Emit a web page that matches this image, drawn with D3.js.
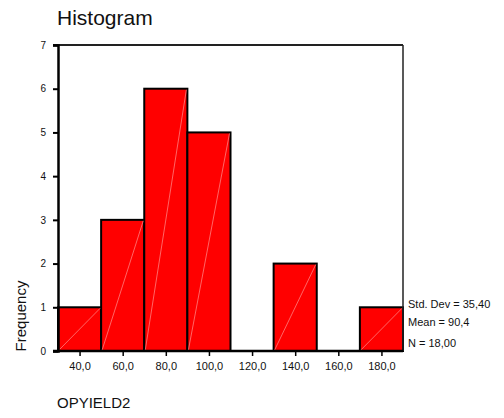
<!DOCTYPE html>
<html>
<head>
<meta charset="utf-8">
<script src="https://cdn.jsdelivr.net/npm/d3@7"></script>
<style>
  html, body { margin: 0; padding: 0; background: #fff; }
  svg { display: block; font-family: "Liberation Sans", Arial, sans-serif; }
</style>
</head>
<body>
<script>
// Histogram of OPYIELD2: bin midpoints and counts
const binCenters = [40, 60, 80, 100, 120, 140, 160, 180];
const frequencies = [1, 3, 6, 5, 0, 2, 0, 1];
const binWidth = 20;
const xTickLabels = ["40,0", "60,0", "80,0", "100,0", "120,0", "140,0", "160,0", "180,0"];
const yTicks = [0, 1, 2, 3, 4, 5, 6, 7];
const statsLines = ["Std. Dev = 35,40", "Mean = 90,4", "N = 18,00"];

const W = 504, H = 418;
const plotLeft = 58, plotRight = 403, plotTop = 45, plotBottom = 351;

const svg = d3.select("body").append("svg").attr("width", W).attr("height", H);

const x = d3.scaleLinear().domain([30, 190]).range([plotLeft, plotRight]);
const y = d3.scaleLinear().domain([0, 7]).range([plotBottom, plotTop]);

// Title
svg.append("text").attr("x", 57).attr("y", 25)
  .attr("font-size", 21).attr("fill", "#111").text("Histogram");

// Bars
const bins = binCenters.map((c, i) => ({ c, f: frequencies[i] })).filter(d => d.f > 0);
const bars = svg.append("g");
bars.selectAll("rect").data(bins).join("rect")
  .attr("x", d => x(d.c - binWidth / 2))
  .attr("y", d => y(d.f))
  .attr("width", d => x(d.c + binWidth / 2) - x(d.c - binWidth / 2))
  .attr("height", d => y(0) - y(d.f))
  .attr("fill", "#ff0000")
  .attr("stroke", "#000").attr("stroke-width", 2);
// faint diagonal fill stroke inside each bar
bars.selectAll("line").data(bins).join("line")
  .attr("x1", d => x(d.c - binWidth / 2) + 1).attr("y1", y(0) - 1)
  .attr("x2", d => x(d.c + binWidth / 2) - 1).attr("y2", d => y(d.f) + 1)
  .attr("stroke", "#ff9090").attr("stroke-width", 0.7);

// Frame: top and right
svg.append("line").attr("x1", 53).attr("x2", plotRight).attr("y1", plotTop).attr("y2", plotTop)
  .attr("stroke", "#222").attr("stroke-width", 2);
svg.append("line").attr("x1", plotRight).attr("x2", plotRight).attr("y1", plotTop).attr("y2", plotBottom)
  .attr("stroke", "#222").attr("stroke-width", 1.5);

// Y axis
const yAxis = d3.axisLeft(y).tickValues(yTicks).tickSize(5).tickPadding(7).tickFormat(d3.format("d"));
const gy = svg.append("g").attr("transform", `translate(${plotLeft},0)`).call(yAxis);
gy.select(".domain").attr("stroke", "#000").attr("stroke-width", 2.5);
gy.selectAll(".tick line").attr("stroke", "#000").attr("stroke-width", 2);
gy.selectAll(".tick text").attr("font-size", 10).attr("fill", "#111")
  .attr("font-family", "Liberation Sans, Arial, sans-serif");

// X axis
const xAxis = d3.axisBottom(x).tickValues(binCenters).tickSize(5).tickPadding(6)
  .tickFormat((d, i) => xTickLabels[i]);
const gx = svg.append("g").attr("transform", `translate(0,${plotBottom})`).call(xAxis);
gx.select(".domain").attr("stroke", "#000").attr("stroke-width", 2.5)
  .attr("d", `M${plotLeft - 5},0H${plotRight}`);
gx.selectAll(".tick line").attr("stroke", "#000").attr("stroke-width", 1.5);
gx.selectAll(".tick text").attr("font-size", 11).attr("fill", "#111")
  .attr("font-family", "Liberation Sans, Arial, sans-serif");

// Axis titles
svg.append("text").attr("transform", "translate(26,316) rotate(-90)")
  .attr("text-anchor", "middle").attr("font-size", 15).attr("fill", "#111").text("Frequency");
svg.append("text").attr("x", 57).attr("y", 408)
  .attr("font-size", 15).attr("fill", "#111").text("OPYIELD2");

// Summary statistics
const statY = [308, 326, 347];
svg.append("g").selectAll("text").data(statsLines).join("text")
  .attr("x", 408).attr("y", (d, i) => statY[i])
  .attr("font-size", 11).attr("fill", "#111").text(d => d);
</script>
</body>
</html>
